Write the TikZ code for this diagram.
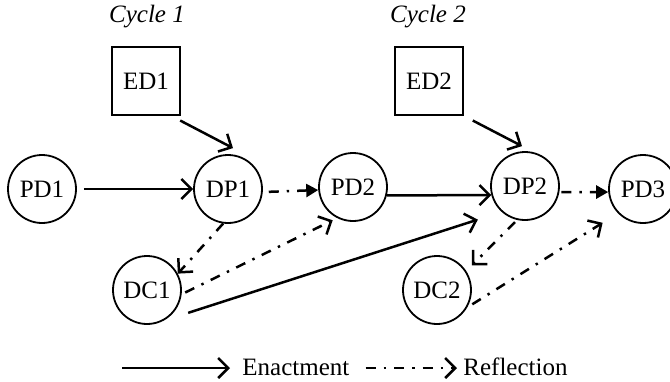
\documentclass[tikz,border=0pt]{standalone}
\usepackage{fontspec}
\setmainfont{Liberation Serif}
\usetikzlibrary{arrows.meta}

\begin{document}
\begin{tikzpicture}[x=0.5pt,y=-0.5pt,
 every node/.style={font=\fontsize{12.5}{14}\selectfont},
 state/.style={circle,draw,line width=0.9pt,minimum size=34pt,inner sep=0pt},
 design/.style={rectangle,draw,line width=0.9pt,minimum size=34pt,inner sep=0pt},
 cycle label/.style={font=\fontsize{12.5}{14}\selectfont\itshape},
 enact/.style={line width=1.25pt,-{Straight Barb[length=5pt,width=10pt]}},
 reflect/.style={line width=1.25pt,dash pattern=on 5pt off 4pt on 1.2pt off 4pt,
   -{Straight Barb[length=5pt,width=10pt]}},
 reflect fill/.style={line width=1.25pt,dash pattern=on 5pt off 4pt on 1.2pt off 4pt,
   -{Triangle[length=6pt,width=6.5pt]}}]
  \useasboundingbox (0,0) rectangle (670,381);

  % cycle labels and design boxes
  \node[cycle label] (c1) at (147,17) {Cycle 1};
  \node[cycle label] (c2) at (428,17) {Cycle 2};
  \node[design] (ED1) at (146,81) {ED1};
  \node[design] (ED2) at (429,81) {ED2};

  % states
  \node[state] (PD1) at (42,189) {PD1};
  \node[state] (DP1) at (228,189) {DP1};
  \node[state] (PD2) at (353,187) {PD2};
  \node[state] (DP2) at (525,186) {DP2};
  \node[state] (PD3) at (643,189) {PD3};
  \node[state] (DC1) at (147,290) {DC1};
  \node[state] (DC2) at (437,290) {DC2};

  % enactment
  \draw[enact, shorten <=3.5pt] (PD1.east) -- (DP1.west);
  \draw[enact, shorten <=5pt] (ED1.-54) -- ([shift={(5,-6)}]DP1.north);
  \draw[enact] (PD2.-14) -- (DP2.195);
  \draw[enact, shorten <=5pt] (ED2.south east) -- ([shift={(-3,-5)}]DP2.north);
  \draw[enact, shorten <=13pt, shorten >=12.5pt] (DC1.-62) -- (DP2.-132);

  % reflection
  \draw[reflect fill, shorten <=3pt] (DP1.-5) -- (PD2.185);
  \draw[reflect fill, shorten <=1pt] (DP2.-10) -- (PD3.185);
  \draw[reflect] (DP1.-98) -- (DC1.28);
  \draw[reflect, shorten <=2pt, shorten >=2.5pt] (DC1.-7) -- (PD2.-117);
  \draw[reflect, shorten <=1.5pt, shorten >=4pt] (DP2.-103) -- (DC2.33);
  \draw[reflect, shorten <=3pt, shorten >=9pt] (DC2.-30) -- (PD3.-136);

  % legend
  \coordinate (legA) at (122,368);
  \node[anchor=west, inner sep=2pt] (enlbl) at (238,367) {Enactment};
  \node[anchor=west, inner sep=2pt] (reflbl) at (459,367) {Reflection};
  \draw[enact] (legA) -- ([xshift=-4pt]enlbl.west |- legA);
  \draw[reflect] ([xshift=6pt]enlbl.east |- legA) -- ([xshift=-1pt]reflbl.west |- legA);
\end{tikzpicture}
\end{document}
